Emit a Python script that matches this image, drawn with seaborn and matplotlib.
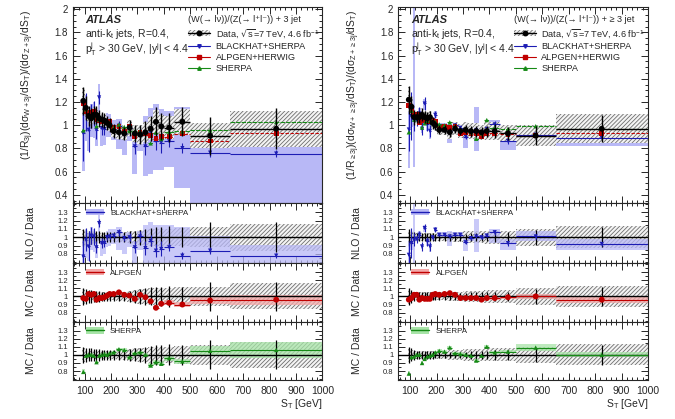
import numpy as np
import pandas as pd
import seaborn as sns
import matplotlib.pyplot as plt
from matplotlib.patches import Patch
from matplotlib.lines import Line2D
from matplotlib.ticker import MultipleLocator

sns.set_style("ticks")
plt.rcParams['font.family'] = ['Liberation Sans', 'DejaVu Sans']
plt.rcParams['mathtext.default'] = 'regular'
plt.rcParams['hatch.linewidth'] = 0.6

# S_T bin edges [GeV]
bin_edges = [90, 100, 110, 120, 130, 140, 150, 160, 170, 180, 190, 200,
             220, 240, 260, 280, 300, 320, 340, 360, 380, 400, 440, 500, 650, 1000]

# ---- W+3 jet / Z+3 jet (left column) ----
# data ratio, relative stat error, relative syst error
left_data = [1.21, 1.15, 1.08, 1.06, 1.09, 1.09, 1.06, 1.05, 1.04, 1.02, 1.00, 0.95, 0.94,
             0.93, 0.98, 0.93, 0.92, 0.94, 0.97, 1.03, 0.99, 0.98, 1.03, 0.91, 0.97]
left_stat = [0.10, 0.09, 0.08, 0.08, 0.07, 0.07, 0.07, 0.06, 0.06, 0.06, 0.06, 0.06, 0.06,
             0.06, 0.07, 0.08, 0.09, 0.10, 0.11, 0.12, 0.12, 0.13, 0.12, 0.18, 0.18]
left_syst = [0.09, 0.06, 0.05, 0.05, 0.05, 0.05, 0.05, 0.05, 0.05, 0.05, 0.05, 0.05, 0.06,
             0.06, 0.07, 0.08, 0.09, 0.09, 0.10, 0.10, 0.10, 0.10, 0.11, 0.12, 0.16]
# predictions / data
left_bh = [0.77, 0.97, 0.89, 1.02, 1.01, 0.88, 1.17, 0.93, 0.93, 1.00, 1.01, 1.02, 1.06,
           0.99, 1.00, 0.88, 1.01, 0.87, 0.96, 0.84, 0.86, 0.88, 0.78, 0.84, 0.78]
left_bh_err = [0.20, 0.14, 0.18, 0.10, 0.10, 0.07, 0.05, 0.06, 0.05, 0.03, 0.03, 0.03, 0.04,
               0.04, 0.05, 0.07, 0.07, 0.08, 0.07, 0.08, 0.09, 0.05, 0.04, 0.04, 0.03]
left_bh_lo = [0.50, 0.75, 0.72, 0.85, 0.82, 0.75, 0.95, 0.78, 0.80, 0.88, 0.90, 0.92, 0.85,
              0.80, 0.88, 0.62, 0.85, 0.60, 0.60, 0.60, 0.62, 0.65, 0.45, 0.30, 0.30]
left_bh_hi = [1.02, 1.10, 1.05, 1.12, 1.10, 1.00, 1.28, 1.02, 1.02, 1.08, 1.10, 1.10, 1.12,
              1.05, 1.06, 0.95, 1.08, 1.15, 1.18, 1.15, 1.15, 1.15, 1.12, 1.02, 0.91]
left_alp = [0.98, 0.97, 1.03, 1.02, 1.03, 0.96, 0.98, 0.98, 0.99, 1.01, 1.03, 1.03, 1.05,
            1.02, 1.01, 0.97, 1.02, 0.99, 0.94, 0.86, 0.91, 0.92, 0.90, 0.95, 0.96]
left_alp_band = [0.03, 0.02, 0.02, 0.02, 0.02, 0.02, 0.02, 0.02, 0.02, 0.02, 0.02, 0.02, 0.02,
                 0.02, 0.02, 0.02, 0.02, 0.02, 0.02, 0.02, 0.02, 0.03, 0.03, 0.04, 0.06]
left_sh = [0.79, 0.99, 1.00, 1.00, 0.99, 0.91, 0.99, 1.00, 1.01, 1.00, 1.02, 1.03, 1.07,
           1.06, 0.97, 1.02, 1.03, 1.00, 0.87, 0.91, 0.89, 0.96, 0.92, 1.05, 1.06]
left_sh_band = [0.03, 0.02, 0.02, 0.02, 0.02, 0.02, 0.02, 0.02, 0.02, 0.02, 0.02, 0.02, 0.02,
                0.02, 0.02, 0.02, 0.02, 0.02, 0.03, 0.03, 0.03, 0.03, 0.03, 0.06, 0.10]

# ---- W+>=3 jet / Z+>=3 jet (right column) ----
right_data = [1.22, 1.16, 1.07, 1.07, 1.07, 1.09, 1.07, 1.06, 1.07, 1.02, 1.00, 0.96, 0.96,
              0.94, 0.97, 0.95, 0.96, 0.95, 0.95, 0.94, 0.95, 0.95, 0.93, 0.91, 0.97]
right_stat = [0.10, 0.08, 0.06, 0.05, 0.05, 0.05, 0.05, 0.05, 0.05, 0.05, 0.04, 0.04, 0.04,
              0.04, 0.04, 0.04, 0.04, 0.05, 0.05, 0.05, 0.05, 0.06, 0.06, 0.09, 0.12]
right_syst = [0.09, 0.06, 0.05, 0.05, 0.05, 0.05, 0.05, 0.05, 0.05, 0.05, 0.05, 0.05, 0.05,
              0.06, 0.06, 0.06, 0.07, 0.07, 0.07, 0.07, 0.08, 0.08, 0.08, 0.10, 0.13]
right_bh = [0.79, 0.93, 0.97, 0.98, 1.03, 0.89, 1.11, 0.95, 0.89, 1.00, 1.09, 1.03, 1.03,
            1.01, 1.03, 1.03, 0.94, 0.99, 1.01, 1.00, 1.02, 1.06, 0.93, 1.01, 0.92]
right_bh_err = [0.15, 0.18, 0.08, 0.05, 0.05, 0.05, 0.05, 0.05, 0.05, 0.03, 0.03, 0.02, 0.02,
                0.02, 0.02, 0.02, 0.02, 0.02, 0.02, 0.02, 0.02, 0.03, 0.03, 0.03, 0.02]
right_bh_lo = [0.52, 0.85, 0.60, 0.95, 0.98, 0.86, 1.06, 0.90, 0.82, 0.97, 1.06, 1.00, 1.00,
               0.90, 1.00, 1.00, 0.84, 0.96, 0.82, 0.97, 0.98, 0.93, 0.85, 0.95, 0.85]
right_bh_hi = [0.95, 1.00, 1.90, 1.01, 1.07, 0.92, 1.15, 0.99, 1.00, 1.03, 1.12, 1.06, 1.06,
               1.08, 1.06, 1.06, 1.00, 1.02, 1.22, 1.03, 1.05, 1.10, 0.98, 1.07, 0.98]
right_alp = [0.96, 0.98, 1.02, 1.02, 0.96, 0.98, 0.97, 0.97, 0.97, 1.02, 1.03, 1.02, 1.03,
             1.04, 1.02, 0.98, 0.98, 0.98, 0.98, 0.96, 0.98, 0.98, 0.99, 1.00, 0.96]
right_alp_band = [0.03, 0.02, 0.02, 0.02, 0.02, 0.02, 0.02, 0.02, 0.02, 0.02, 0.02, 0.02, 0.02,
                  0.02, 0.02, 0.02, 0.02, 0.02, 0.02, 0.02, 0.02, 0.02, 0.02, 0.03, 0.04]
right_sh = [0.77, 0.97, 0.98, 1.00, 1.00, 0.90, 0.95, 0.98, 0.99, 1.00, 1.03, 1.05, 1.04,
            1.09, 1.02, 1.01, 1.00, 0.99, 0.93, 0.99, 1.10, 1.03, 1.04, 1.09, 1.00]
right_sh_band = [0.03, 0.02, 0.02, 0.02, 0.02, 0.02, 0.02, 0.02, 0.02, 0.02, 0.02, 0.02, 0.02,
                 0.02, 0.02, 0.02, 0.02, 0.02, 0.02, 0.02, 0.02, 0.02, 0.02, 0.04, 0.03]

BLUE = '#1c1cb4'
BLUE_BAND = '#b8b8f6'
RED = '#c00000'
RED_BAND = '#f4a8a8'
GREEN = '#168a16'
GREEN_BAND = '#a8e4a8'
HATCH_COL = '#6e6e6e'
HATCH = '////////'

edges = np.array(bin_edges, dtype=float)
lo_edge = edges[:-1]
widths = np.diff(edges)
centres = lo_edge + widths / 2


def style_axis(ax, ratio=False):
    ax.set_xlim(55, 1000)
    ax.xaxis.set_major_locator(MultipleLocator(100))
    ax.xaxis.set_minor_locator(MultipleLocator(20))
    if ratio:
        ax.set_ylim(0.69, 1.41)
        ax.set_yticks([0.8, 0.9, 1.0, 1.1, 1.2, 1.3], ['0.8', '0.9', '1', '1.1', '1.2', '1.3'])
        ax.yaxis.set_minor_locator(MultipleLocator(0.05))
        ax.tick_params(axis='y', labelsize=5.5)
    else:
        ax.set_ylim(0.33, 2.02)
        ax.set_yticks([0.4, 0.6, 0.8, 1.0, 1.2, 1.4, 1.6, 1.8, 2.0],
                      ['0.4', '0.6', '0.8', '1', '1.2', '1.4', '1.6', '1.8', '2'])
        ax.yaxis.set_minor_locator(MultipleLocator(0.05))
        ax.tick_params(axis='y', labelsize=7)
    ax.tick_params(which='both', direction='in', top=True, right=True, width=0.7)
    ax.tick_params(which='major', length=5)
    ax.tick_params(which='minor', length=2.5)
    ax.tick_params(axis='x', labelbottom=False)
    for s in ax.spines.values():
        s.set_linewidth(0.8)


def band(ax, lo, hi, **kw):
    ax.bar(lo_edge, np.asarray(hi) - np.asarray(lo), bottom=lo, width=widths,
           align='edge', linewidth=0, **kw)


def hatched(ax, centre, rel, zorder=2):
    centre = np.asarray(centre)
    rel = np.asarray(rel)
    band(ax, centre * (1 - rel), centre * (1 + rel), facecolor='#f4f4f4',
         edgecolor=HATCH_COL, hatch=HATCH, zorder=zorder)


def binned_points(ax, y, err, color, marker, size, ls='-', lw=0.8, zorder=5):
    y = np.asarray(y)
    ax.hlines(y, lo_edge, edges[1:], colors=color, linestyles=ls, linewidth=lw, zorder=zorder)
    if err is not None:
        err = np.asarray(err)
        ax.vlines(centres, y - err, y + err, colors=color, linewidth=lw, zorder=zorder)
    df = pd.DataFrame({'st': centres, 'val': y})
    sns.scatterplot(data=df, x='st', y='val', ax=ax, marker=marker, color=color,
                    s=size, edgecolor='none', linewidth=0, zorder=zorder + 1, legend=False)


def draw_column(x0, title, ylab, d):
    data = np.asarray(d['data'])
    stat = np.asarray(d['stat'])
    ax_main = fig.add_axes([x0, 0.5155, 0.370, 0.468])
    ax_r1 = fig.add_axes([x0, 0.372, 0.370, 0.1435])
    ax_r2 = fig.add_axes([x0, 0.2325, 0.370, 0.1395])
    ax_r3 = fig.add_axes([x0, 0.093, 0.370, 0.1395])

    # main panel
    style_axis(ax_main)
    band(ax_main, data * np.asarray(d['bh_lo']), data * np.asarray(d['bh_hi']),
         color=BLUE_BAND, zorder=1)
    hatched(ax_main, data, d['syst'])
    binned_points(ax_main, data * np.asarray(d['bh']), data * np.asarray(d['bh_err']),
                  BLUE, 'v', 9, zorder=4)
    binned_points(ax_main, data * np.asarray(d['alp']), None, RED, 's', 12,
                  ls=(0, (3, 1.5)), zorder=4)
    binned_points(ax_main, data * np.asarray(d['sh']), None, GREEN, '^', 10,
                  ls=(0, (4, 1)), zorder=4)
    binned_points(ax_main, data, data * stat, 'black', 'o', 18, lw=1.0, zorder=6)

    ax_main.text(0.05, 0.935, 'ATLAS', transform=ax_main.transAxes, fontsize=8,
                 fontweight='bold', fontstyle='italic', va='center')
    ax_main.text(0.05, 0.862, r'anti-$k_t$ jets, R=0.4,', transform=ax_main.transAxes,
                 fontsize=7.5, va='center')
    ax_main.text(0.05, 0.785, r'$p^j_T$ > 30 GeV, $|y^j|$ < 4.4', transform=ax_main.transAxes,
                 fontsize=7.5, va='center')

    handles = [
        (Patch(facecolor='#f4f4f4', edgecolor=HATCH_COL, hatch=HATCH, linewidth=0),
         Line2D([], [], color='black', marker='o', ms=3.2, lw=1.0)),
        Line2D([], [], color=BLUE, marker='v', ms=2.5, lw=0.8),
        Line2D([], [], color=RED, marker='s', ms=2.8, lw=0.8),
        Line2D([], [], color=GREEN, marker='^', ms=2.5, lw=0.8),
    ]
    labels = [r'Data, $\sqrt{s}$=7 TeV, 4.6 fb$^{-1}$', 'BLACKHAT+SHERPA',
              'ALPGEN+HERWIG', 'SHERPA']
    ax_main.legend(handles, labels, title=title, loc='upper left',
                   bbox_to_anchor=(0.44, 0.985), fontsize=6.6, title_fontsize=6.6,
                   handlelength=2.4, handletextpad=0.6, labelspacing=0.25,
                   frameon=False, alignment='left', borderaxespad=0.2)
    ax_main.set_ylabel(ylab, fontsize=7.5, loc='top')
    ax_main.yaxis.set_label_coords(-0.147, 0.985)

    # ratio panels
    ratio_specs = [
        (ax_r1, 'bh', 'bh_lo', 'bh_hi', BLUE, BLUE_BAND, 'v', 9, 'BLACKHAT+SHERPA', 'NLO / Data'),
        (ax_r2, 'alp', None, None, RED, RED_BAND, 'o', 18, 'ALPGEN', 'MC / Data'),
        (ax_r3, 'sh', None, None, GREEN, GREEN_BAND, '^', 10, 'SHERPA', 'MC / Data'),
    ]
    for ax, key, lo_key, hi_key, col, bcol, mk, sz, name, ylabel in ratio_specs:
        style_axis(ax, ratio=True)
        pred = np.asarray(d[key])
        hatched(ax, np.ones(len(pred)), d['syst'], zorder=1)
        if lo_key is not None:
            lo, hi = d[lo_key], d[hi_key]
            err = d['bh_err']
        else:
            half = np.asarray(d[key + '_band'])
            lo, hi = pred - half, pred + half
            err = None
        band(ax, lo, hi, color=bcol, alpha=0.75, zorder=2)
        ax.axhline(1.0, color='black', lw=1.0, zorder=3)
        ax.vlines(centres, 1 - stat, 1 + stat, colors='black', linewidth=0.9, zorder=3)
        binned_points(ax, pred, err, col, mk, sz, zorder=4)
        h = (Patch(facecolor=bcol, edgecolor='none'), Line2D([], [], color=col, lw=1.0))
        ax.legend([h], [name], loc='upper left', bbox_to_anchor=(0.03, 1.0),
                  fontsize=5.8, frameon=False, handlelength=2.2, handleheight=0.9,
                  handletextpad=0.8, borderaxespad=0.3)
        ax.set_ylabel(ylabel, fontsize=7.5)
        ax.yaxis.set_label_coords(-0.147, 0.5)
        ax.set_xlabel('')

    ax_r3.tick_params(axis='x', labelbottom=True, labelsize=7.5, pad=4)
    fig.text(x0 + 0.370, 0.018, r'$S_T$ [GeV]', fontsize=7.5, ha='right', va='bottom')


fig = plt.figure(figsize=(6.75, 4.19), dpi=100)

draw_column(0.1077, '(W(\u2192 l\u03bd))/(Z(\u2192 l\u207al\u207b)) + 3 jet',
            r'$(1/R_{3j})(d\sigma_{W+3j}/dS_T)/(d\sigma_{Z+3j}/dS_T)$',
            dict(data=left_data, stat=left_stat, syst=left_syst, bh=left_bh,
                 bh_err=left_bh_err, bh_lo=left_bh_lo, bh_hi=left_bh_hi,
                 alp=left_alp, alp_band=left_alp_band, sh=left_sh, sh_band=left_sh_band))

draw_column(0.590, '(W(\u2192 l\u03bd))/(Z(\u2192 l\u207al\u207b)) + \u2265 3 jet',
            r'$(1/R_{\geq 3j})(d\sigma_{W+\geq 3j}/dS_T)/(d\sigma_{Z+\geq 3j}/dS_T)$',
            dict(data=right_data, stat=right_stat, syst=right_syst, bh=right_bh,
                 bh_err=right_bh_err, bh_lo=right_bh_lo, bh_hi=right_bh_hi,
                 alp=right_alp, alp_band=right_alp_band, sh=right_sh, sh_band=right_sh_band))

fig.savefig('out.png', dpi=100)
